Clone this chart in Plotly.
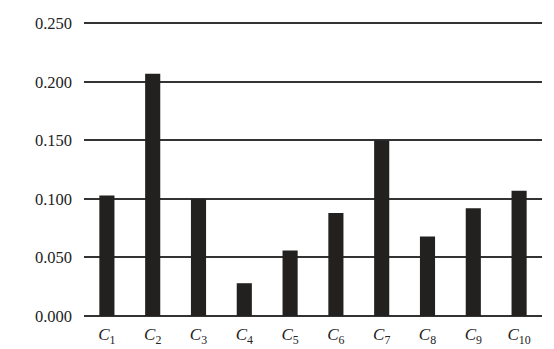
import plotly.graph_objects as go

categories = ["C1", "C2", "C3", "C4", "C5", "C6", "C7", "C8", "C9", "C10"]
tick_text = ["<i>C</i><sub>%d</sub>" % i for i in range(1, 11)]
values = [0.103, 0.207, 0.100, 0.028, 0.056, 0.088, 0.150, 0.068, 0.092, 0.107]
y_ticks = [0.0, 0.05, 0.10, 0.15, 0.20, 0.25]
y_tick_text = ["0.000", "0.050", "0.100", "0.150", "0.200", "0.250"]

SERIF = "Liberation Serif, Times New Roman, serif"

fig = go.Figure(go.Bar(
    x=categories, y=values, width=0.33,
    marker=dict(color="#222120", line=dict(width=0)),
))

fig.update_layout(
    width=554, height=349,
    margin=dict(l=84, r=12, t=21, b=33, autoexpand=False),
    paper_bgcolor="white", plot_bgcolor="white",
    font=dict(family=SERIF, size=16, color="#222"),
    showlegend=False,
    bargap=0.67,
)
fig.update_xaxes(
    tickmode="array", tickvals=categories, ticktext=tick_text,
    range=[-0.5, 9.5], showgrid=False, zeroline=False, showline=False,
    ticks="", ticklabelstandoff=6, tickfont=dict(family=SERIF, size=17),
    automargin=False,
)
fig.update_yaxes(
    range=[0, 0.252], tickmode="array", tickvals=y_ticks, ticktext=y_tick_text,
    showgrid=True, gridcolor="#333", gridwidth=1.5,
    zeroline=True, zerolinecolor="#333", zerolinewidth=1.5,
    showline=False, ticks="", ticklabelstandoff=11,
    tickfont=dict(family=SERIF, size=16.5), automargin=False,
)
fig.write_html("out.html")
